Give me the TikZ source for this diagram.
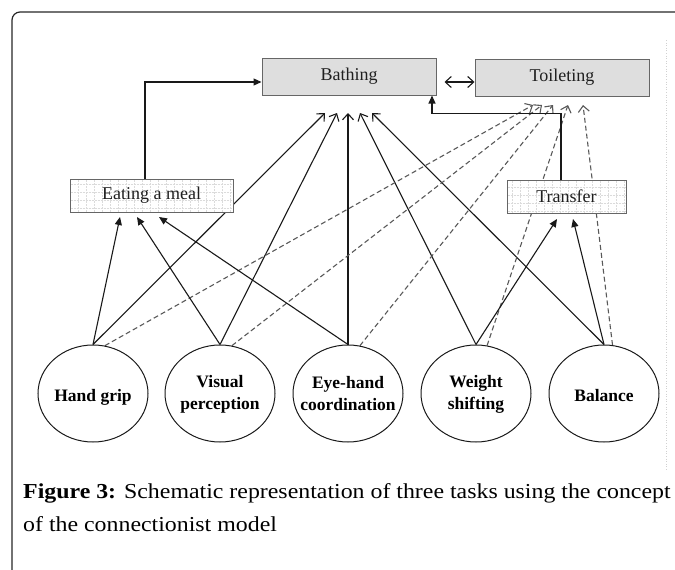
\documentclass[tikz,border=0pt]{standalone}
\usepackage{fontspec}
\setmainfont{Liberation Serif}
\newfontfamily\capfont[FakeStretch=1.12]{Liberation Serif}
\usetikzlibrary{arrows.meta,shapes.geometric,calc,backgrounds}
\begin{document}
\begin{tikzpicture}[x=1pt,y=-1pt,
  taskbox/.style={draw=black!60, line width=1pt, fill=black!13, minimum width=174pt, minimum height=37pt, inner sep=0pt, font=\fontsize{18}{20}\selectfont, text=black!88},
  gridbox/.style={draw=black!60, line width=1pt, fill=white, inner sep=0pt, minimum height=33pt, font=\fontsize{18}{20}\selectfont, text=black!88,
    path picture={\draw[black!14, line width=0.5pt, densely dotted, step=8pt] ([shift={(-4pt,-4pt)}]path picture bounding box.south west) grid (path picture bounding box.north east);}},
  skill/.style={ellipse, draw=black!90, line width=1pt, minimum width=110pt, minimum height=97pt, inner sep=0pt, fill=white},
  skilltext/.style={font=\bfseries\fontsize{17.5}{22}\selectfont, align=center, inner sep=0pt},
  sarrow/.style={draw=black!90, line width=1.1pt, -{Straight Barb[length=6pt,width=11pt]}},
  farrow/.style={draw=black!90, line width=1.1pt, -{Triangle[length=8pt,width=7pt]}},
  darrow/.style={draw=black!65, line width=1.1pt, dash pattern=on 5pt off 3pt, -{Straight Barb[length=6pt,width=11pt]}},
  dblarrow/.style={draw=black!90, line width=1.1pt, {Straight Barb[length=6pt,width=11pt]}-{Straight Barb[length=6pt,width=11pt]}},
  captext/.style={anchor=base west, inner sep=0pt, font=\capfont\fontsize{21.3}{25}\selectfont}
]
\useasboundingbox (0,0) rectangle (675,570);
% frame
\draw[line width=1.2pt, black!85, rounded corners=8pt] (12,570) -- (12,12) -- (675,12);
\draw[black!18, dotted, line width=0.6pt] (666,40) -- (666,470);

% task boxes
\node[taskbox] (bath) at (349,76.5) {Bathing};
\node[taskbox] (toil) at (562,77.5) {Toileting};
\node[gridbox, minimum width=163pt] (eat) at (151.5,195.5) {Eating a meal};
\node[gridbox, minimum width=119pt] (trans) at (566.5,196.5) {Transfer};

% skill ellipses
\node[skill] (hand) at (93,393.5) {};
\node[skill] (vis) at (220,393.5) {};
\node[skill] (eye) at (348,393.5) {};
\node[skill] (wt) at (476,393.5) {};
\node[skill] (bal) at (604,393.5) {};
\node[skilltext] (handt) at (93,397) {Hand grip};
\node[skilltext] (vist) at (220,394) {Visual\\perception};
\node[skilltext] (eyet) at (348,394) {Eye-hand\\coordination};
\node[skilltext] (wtt) at (476,394) {Weight\\shifting};
\node[skilltext] (balt) at (604,396) {Balance};

% arrow tips
\coordinate (b1) at (325,113); \coordinate (b2) at (337,113); \coordinate (b3) at (348,113);
\coordinate (b4) at (360,113); \coordinate (b5) at (372,113);
\coordinate (t1) at (533,105); \coordinate (t2) at (542,105); \coordinate (t3) at (553,105);
\coordinate (t4) at (568,105); \coordinate (t5) at (583,105);
\coordinate (e1) at (120,217); \coordinate (e2) at (137,217); \coordinate (e3) at (159,217);
\coordinate (r1) at (557,219); \coordinate (r2) at (573,219);

\begin{scope}[on background layer]
  % to Bathing
  \draw[sarrow] (hand.north) -- (b1);
  \draw[sarrow] (vis.north) -- (b2);
  \draw[sarrow] (eye.north) -- (b3);
  \draw[sarrow] (wt.north) -- (b4);
  \draw[sarrow] (bal.north) -- (b5);
  % to Toileting (dashed)
  \draw[darrow] (hand.76) -- (t1);
  \draw[darrow] (vis.76) -- (t2);
  \draw[darrow] (eye.76) -- (t3);
  \draw[darrow] (wt.77) -- (t4);
  \draw[darrow] (bal.80) -- (t5);
  % to Eating a meal
  \draw[farrow] (hand.north) -- (e1);
  \draw[farrow] (vis.north) -- (e2);
  \draw[farrow] (eye.north) -- (e3);
  % to Transfer
  \draw[farrow] (wt.north) -- (r1);
  \draw[farrow] (bal.north) -- (r2);
  % elbows
  \draw[farrow] ([xshift=-6.5pt]eat.north) |- ($(bath.west)+(0,5.5)$);
  \draw[farrow] ([xshift=-5.5pt]trans.north) -- ++(0,-66) -| ([xshift=83pt]bath.south);
  \draw[dblarrow] ($(bath.east)+(8,5.5)$) -- ($(toil.west)+(0,4.5)$);
\end{scope}

% caption
\node[captext] (cap1) at (23,498) {\textbf{Figure 3:} Schematic representation of three tasks using the concept};
\node[captext] (cap2) at (23,531) {of the connectionist model};
\end{tikzpicture}
\end{document}
